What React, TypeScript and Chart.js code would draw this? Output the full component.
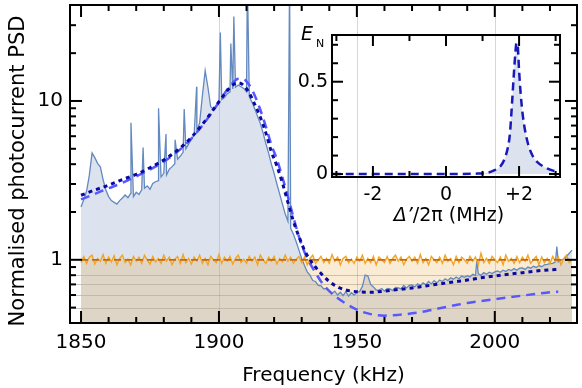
import React, { useEffect, useRef } from "react";
import { Chart, registerables } from "chart.js";

Chart.register(...registerables);

const FONT = "'DejaVu Sans', 'Liberation Sans', sans-serif";

// ---- Main panel data (frequency in kHz, one sample per kHz from FREQ_START) ----
const FREQ_START = 1850;

const PSD = [
  2.15, 2.4, 2.7, 3.4, 4.7, 4.4, 4.05, 3.85, 3.2, 2.75,
  2.5, 2.36, 2.3, 2.24, 2.36, 2.45, 2.56, 2.46, 2.62, 2.5,
  2.66, 2.58, 2.76, 2.82, 2.92, 2.78, 3.02, 3.1, 3.15, 3.32,
  3.5, 3.42, 3.72, 3.86, 4.02, 4.3, 4.5, 4.75, 5.0, 5.35,
  5.75, 6.1, 6.45, 7.3, 10.8, 15.5, 12.2, 9.2, 8.9, 9.4,
  9.7, 10.2, 10.5, 11.1, 11.4, 11.9, 12.2, 12.6, 12.3, 12.0,
  11.4, 10.6, 9.8, 8.9, 8.0, 7.2, 6.3, 5.4, 4.7, 4.0,
  3.5, 3.0, 2.6, 2.25, 1.95, 1.75, 1.58, 1.45, 1.3, 1.15,
  1.02, 0.92, 0.84, 0.8, 0.74, 0.73, 0.69, 0.685, 0.655, 0.66,
  0.64, 0.615, 0.635, 0.6, 0.625, 0.595, 0.63, 0.59, 0.62, 0.6,
  0.625, 0.63, 0.68, 0.8, 0.79, 0.7, 0.675, 0.645, 0.645, 0.66,
  0.635, 0.66, 0.655, 0.64, 0.67, 0.665, 0.655, 0.69, 0.665, 0.69,
  0.695, 0.675, 0.705, 0.69, 0.715, 0.695, 0.73, 0.705, 0.74, 0.715,
  0.745, 0.73, 0.76, 0.74, 0.77, 0.755, 0.78, 0.76, 0.79, 0.775,
  0.795, 0.78, 0.81, 0.795, 0.815, 0.8, 0.83, 0.81, 0.835, 0.82,
  0.84, 0.85, 0.835, 0.86, 0.845, 0.87, 0.855, 0.88, 0.86, 0.885,
  0.89, 0.87, 0.9, 0.885, 0.91, 0.895, 0.92, 0.905, 0.93, 0.935,
  0.945, 0.95, 0.97, 0.97, 0.995, 1.01, 1.05, 1.1, 1.15,
];

const SHOT_NOISE = [
  0.96, 1.05, 0.95, 1.04, 1.07, 0.94, 1.02, 0.98, 1.08, 0.95,
  1.04, 0.97, 1.06, 0.93, 1.02, 1.07, 0.96, 1.01, 0.93, 1.05,
  0.98, 1.04, 0.95, 1.07, 1.0, 0.94, 1.05, 0.97, 1.02, 0.95,
  1.07, 0.98, 1.04, 0.93, 1.01, 1.05, 0.95, 1.08, 0.96, 1.02,
  0.94, 1.04, 0.98, 1.07, 0.95, 1.02, 0.93, 1.05, 1.0, 0.96,
  1.08, 0.95, 1.04, 0.98, 1.05, 0.94, 1.02, 1.07, 0.96, 1.01,
  0.95, 1.05, 0.98, 1.04, 0.93, 1.07, 1.0, 0.95, 1.04, 0.98,
  1.05, 0.94, 1.02, 0.97, 1.07, 0.98, 1.04, 0.95, 1.01, 1.05,
  0.96, 1.04, 0.93, 1.02, 1.07, 0.95, 1.0, 1.05, 0.96, 1.02,
  0.95, 1.08, 0.98, 1.04, 0.93, 1.02, 1.05, 0.96, 1.01, 0.95,
  1.04, 0.98, 1.07, 0.95, 1.02, 0.96, 1.05, 0.93, 1.04, 1.0,
  0.96, 1.05, 0.95, 1.02, 1.07, 0.98, 1.04, 0.93, 1.01, 1.05,
  0.98, 1.04, 0.95, 1.08, 0.96, 1.02, 0.93, 1.05, 1.0, 0.96,
  1.04, 0.95, 1.07, 0.98, 1.02, 0.93, 1.05, 0.96, 1.04, 1.0,
  0.95, 1.05, 0.98, 1.04, 0.93, 1.1, 0.96, 1.02, 0.95, 1.05,
  1.0, 0.96, 1.04, 0.93, 1.07, 0.98, 1.02, 0.95, 1.05, 0.96,
  1.04, 0.98, 1.07, 0.95, 1.0, 1.05, 0.93, 1.04, 0.96, 1.02,
  0.95, 1.05, 0.98, 1.04, 0.93, 1.02, 1.07, 0.96, 1.0,
];

const SHOT_LEVEL_FREQ = [1850, 2028];
const SHOT_LEVEL = [1, 1];

const SPIKE_FREQ = [1868.1, 1872.5, 1878.1, 1880.8, 1884.1, 1887.4, 1891.9, 1900.5, 1904.3, 1905.4, 1910.3, 1925.6, 1993.5, 2022.5];
const SPIKE_PEAK = [7.3, 5.1, 9.0, 6.2, 5.7, 8.9, 12.3, 27, 23, 34, 60, 60, 0.99, 1.21];

const FIT_FREQ = [
  1850, 1855, 1860, 1865, 1870, 1875, 1880, 1885, 1890, 1895,
  1900, 1903, 1905, 1907, 1909, 1911, 1913, 1915, 1917, 1919,
  1921, 1923, 1925, 1927, 1929, 1931, 1933, 1935, 1937, 1940,
  1943, 1946, 1950, 1955, 1960, 1965, 1970, 1975, 1980, 1985,
  1990, 1995, 2000, 2005, 2010, 2015, 2020, 2023,
];
const FIT_FULL = [
  2.55, 2.75, 2.95, 3.2, 3.45, 3.8, 4.25, 4.9, 5.9, 7.5,
  9.9, 11.6, 12.6, 13.0, 12.5, 11.2, 9.5, 7.9, 6.3, 4.8,
  3.9, 3.05, 2.3, 1.75, 1.4, 1.15, 1.0, 0.9, 0.82, 0.73,
  0.675, 0.645, 0.63, 0.625, 0.635, 0.65, 0.665, 0.685, 0.705, 0.725,
  0.745, 0.77, 0.79, 0.81, 0.83, 0.85, 0.865, 0.87,
];
const FIT_NO_NOISE = [
  2.4, 2.6, 2.82, 3.05, 3.35, 3.7, 4.15, 4.8, 5.8, 7.4,
  9.8, 11.8, 13.0, 13.8, 13.7, 12.6, 10.8, 8.8, 6.9, 5.3,
  4.3, 3.3, 2.5, 1.85, 1.4, 1.12, 0.95, 0.83, 0.73, 0.635,
  0.575, 0.53, 0.485, 0.455, 0.445, 0.45, 0.46, 0.475, 0.495, 0.515,
  0.535, 0.55, 0.565, 0.58, 0.595, 0.61, 0.625, 0.63,
];

const X_TICKS = [1850, 1900, 1950, 2000];
const Y_TICKS = [1, 10];
const GRID_X = [1900, 1950, 2000];
const GRID_Y = [0.5, 0.6, 0.7, 0.8];

// ---- Inset data ----
const INSET_DETUNING = [-3.1, -2, -1, 0, 0.8, 1.1, 1.3, 1.5, 1.6, 1.7, 1.75, 1.8, 1.85, 1.9, 1.93, 1.96, 2.0, 2.05, 2.1, 2.16, 2.25, 2.38, 2.5, 2.75, 3.02];
const INSET_EN = [0, 0, 0, 0, 0.002, 0.006, 0.018, 0.045, 0.08, 0.15, 0.22, 0.36, 0.52, 0.66, 0.71, 0.7, 0.56, 0.42, 0.32, 0.24, 0.16, 0.095, 0.065, 0.032, 0.013];
const INSET_X_TICKS = [-2, 0, 2];
const INSET_Y_TICKS = [0, 0.5];

function seg(ctx: CanvasRenderingContext2D, x1: number, y1: number, x2: number, y2: number) {
  ctx.beginPath();
  ctx.moveTo(x1, y1);
  ctx.lineTo(x2, y2);
  ctx.stroke();
}

const noPad = (s: any) => {
  s.paddingTop = 0;
  s.paddingBottom = 0;
  s.paddingLeft = 0;
  s.paddingRight = 0;
};

const mainDecor = {
  id: "mainDecor",
  beforeDatasetsDraw(chart: any) {
    const { ctx, chartArea: a, scales } = chart;
    const x = scales.x, y = scales.y;
    ctx.save();
    ctx.lineWidth = 1;
    ctx.strokeStyle = "rgba(0,0,0,0.16)";
    GRID_X.forEach((v) => {
      const px = Math.round(x.getPixelForValue(v)) + 0.5;
      seg(ctx, px, a.top, px, a.bottom);
    });
    ctx.strokeStyle = "rgba(0,0,0,0.22)";
    GRID_Y.forEach((v) => {
      const py = Math.round(y.getPixelForValue(v)) + 0.5;
      seg(ctx, a.left, py, a.right, py);
    });
    ctx.restore();
  },
  afterDraw(chart: any) {
    const { ctx, chartArea: a, scales } = chart;
    const x = scales.x, y = scales.y;
    ctx.save();
    ctx.strokeStyle = "#000";
    ctx.lineWidth = 2;
    ctx.strokeRect(a.left, a.top, a.right - a.left, a.bottom - a.top);
    for (let f = 1850; f <= 2020; f += 10) {
      const px = x.getPixelForValue(f);
      const len = X_TICKS.includes(f) ? 12 : 6;
      seg(ctx, px, a.bottom, px, a.bottom - len);
      seg(ctx, px, a.top, px, a.top + len);
    }
    const minor = [0.5, 0.6, 0.7, 0.8, 0.9, 2, 3, 4, 5, 6, 7, 8, 9, 20, 30];
    minor.forEach((v) => {
      const py = y.getPixelForValue(v);
      seg(ctx, a.left, py, a.left + 6, py);
      seg(ctx, a.right, py, a.right - 6, py);
    });
    Y_TICKS.forEach((v) => {
      const py = y.getPixelForValue(v);
      seg(ctx, a.left, py, a.left + 12, py);
      seg(ctx, a.right, py, a.right - 12, py);
    });
    // y-axis title
    ctx.fillStyle = "#000";
    ctx.font = `21px ${FONT}`;
    ctx.textAlign = "center";
    ctx.textBaseline = "middle";
    ctx.translate(19, 171);
    ctx.rotate(-Math.PI / 2);
    ctx.fillText("Normalised photocurrent PSD", 0, 0);
    ctx.restore();
  },
};

const insetDecor = {
  id: "insetDecor",
  afterDraw(chart: any) {
    const { ctx, chartArea: a, scales } = chart;
    const x = scales.x, y = scales.y;
    ctx.save();
    ctx.strokeStyle = "#000";
    ctx.lineWidth = 2;
    ctx.strokeRect(a.left, a.top, a.right - a.left, a.bottom - a.top);
    [-3, -2, -1, 0, 1, 2, 3].forEach((v) => {
      const px = x.getPixelForValue(v);
      const len = INSET_X_TICKS.includes(v) ? 11 : 6;
      seg(ctx, px, a.bottom, px, a.bottom - len);
      seg(ctx, px, a.top, px, a.top + len);
    });
    [0, 0.1, 0.2, 0.3, 0.4, 0.5, 0.6, 0.7].forEach((v) => {
      const py = y.getPixelForValue(v);
      const len = INSET_Y_TICKS.includes(v) ? 11 : 6;
      seg(ctx, a.left, py, a.left + len, py);
      seg(ctx, a.right, py, a.right - len, py);
    });
    ctx.fillStyle = "#000";
    ctx.textBaseline = "alphabetic";
    ctx.textAlign = "left";
    ctx.font = `italic 19px ${FONT}`;
    ctx.fillText("E", 301, 40);
    ctx.font = `11px ${FONT}`;
    ctx.fillText("N", 316, 47);
    // x title with italic Δ’
    const partA = "Δ’";
    const partB = "/2π (MHz)";
    ctx.font = `italic 19px ${FONT}`;
    const wA = ctx.measureText(partA).width;
    ctx.font = `19px ${FONT}`;
    const wB = ctx.measureText(partB).width;
    const cx = (a.left + a.right) / 2 + 3;
    const startX = cx - (wA + wB) / 2;
    ctx.font = `italic 19px ${FONT}`;
    ctx.fillText(partA, startX, 221);
    ctx.font = `19px ${FONT}`;
    ctx.fillText(partB, startX + wA, 221);
    ctx.restore();
  },
};

export default function App() {
  const mainRef = useRef<HTMLCanvasElement>(null);
  const insetRef = useRef<HTMLCanvasElement>(null);

  useEffect(() => {
    const spectrum = PSD.map((v, i) => ({ x: FREQ_START + i, y: v }));
    SPIKE_FREQ.forEach((f, i) => spectrum.push({ x: f, y: SPIKE_PEAK[i] }));
    spectrum.sort((p, q) => p.x - q.x);
    const shot = SHOT_NOISE.map((v, i) => ({ x: FREQ_START + i, y: v }));
    const shotLevel = SHOT_LEVEL_FREQ.map((f, i) => ({ x: f, y: SHOT_LEVEL[i] }));
    const fitFull = FIT_FREQ.map((f, i) => ({ x: f, y: FIT_FULL[i] }));
    const fitNoNoise = FIT_FREQ.map((f, i) => ({ x: f, y: FIT_NO_NOISE[i] }));

    const common = { pointRadius: 0, tension: 0, spanGaps: false };

    const main = new Chart(mainRef.current as HTMLCanvasElement, {
      type: "line",
      data: {
        datasets: [
          { ...common, data: spectrum, order: 7, borderWidth: 0, borderColor: "rgba(0,0,0,0)", backgroundColor: "rgba(158,178,209,0.36)", fill: "start" },
          { ...common, data: shot, order: 6, borderWidth: 0, borderColor: "rgba(0,0,0,0)", backgroundColor: "rgba(230,155,40,0.2)", fill: "start" },
          { ...common, data: spectrum, order: 5, borderWidth: 1.3, borderColor: "rgb(100,137,190)", fill: false },
          { ...common, data: shot, order: 4, borderWidth: 1.4, borderColor: "rgb(240,165,40)", fill: false },
          { ...common, data: shotLevel, order: 3, borderWidth: 1.8, borderColor: "rgb(195,105,15)", borderDash: [7, 4], fill: false },
          { ...common, data: fitNoNoise, order: 2, borderWidth: 2.5, borderColor: "rgb(88,88,255)", borderDash: [9, 6], fill: false, cubicInterpolationMode: "monotone" },
          { ...common, data: fitFull, order: 1, borderWidth: 3, borderColor: "rgb(10,10,160)", borderDash: [4, 4], fill: false, cubicInterpolationMode: "monotone" },
        ],
      },
      options: {
        animation: false,
        responsive: false,
        events: [],
        layout: { padding: { top: 5, right: 5, left: 0, bottom: 0 } },
        plugins: { legend: { display: false }, tooltip: { enabled: false } },
        scales: {
          x: {
            type: "linear",
            min: 1846,
            max: 2029.8,
            afterBuildTicks: (s: any) => {
              s.ticks = X_TICKS.map((v) => ({ value: v }));
            },
            afterFit: (s: any) => {
              s.height = 65;
              noPad(s);
            },
            grid: { display: false, drawTicks: false },
            border: { display: false },
            ticks: {
              font: { family: FONT, size: 20 },
              color: "#000",
              padding: 8,
              maxRotation: 0,
              autoSkip: false,
              callback: (v: any) => String(v),
            },
            title: {
              display: true,
              text: "Frequency (kHz)",
              font: { family: FONT, size: 20 },
              color: "#000",
              padding: { top: 0, bottom: 0 },
            },
          },
          y: {
            type: "logarithmic",
            min: 0.4,
            max: 40.2,
            afterBuildTicks: (s: any) => {
              s.ticks = Y_TICKS.map((v) => ({ value: v }));
            },
            afterFit: (s: any) => {
              s.width = 70;
              noPad(s);
            },
            grid: { display: false, drawTicks: false },
            border: { display: false },
            ticks: {
              font: { family: FONT, size: 20 },
              color: "#000",
              padding: 7,
              autoSkip: false,
              callback: (v: any) => String(v),
            },
          },
        },
      },
      plugins: [mainDecor],
    } as any);

    const inset = new Chart(insetRef.current as HTMLCanvasElement, {
      type: "line",
      data: {
        datasets: [
          {
            data: INSET_DETUNING.map((d, i) => ({ x: d, y: INSET_EN[i] })),
            borderColor: "rgb(25,25,185)",
            borderWidth: 2.5,
            borderDash: [8, 5],
            backgroundColor: "rgba(158,178,209,0.36)",
            fill: "origin",
            pointRadius: 0,
            cubicInterpolationMode: "monotone",
          },
        ],
      },
      options: {
        animation: false,
        responsive: false,
        events: [],
        layout: { padding: { top: 35, right: 22, left: 282, bottom: 159 } },
        plugins: { legend: { display: false }, tooltip: { enabled: false } },
        scales: {
          x: {
            type: "linear",
            min: -3.12,
            max: 3.12,
            afterBuildTicks: (s: any) => {
              s.ticks = INSET_X_TICKS.map((v) => ({ value: v }));
            },
            afterFit: (s: any) => {
              s.height = 52;
              noPad(s);
            },
            grid: { display: false, drawTicks: false },
            border: { display: false },
            ticks: {
              font: { family: FONT, size: 19 },
              color: "#000",
              padding: 7,
              maxRotation: 0,
              autoSkip: false,
              callback: (v: any) => (v > 0 ? "+" + v : String(v)),
            },
          },
          y: {
            type: "linear",
            min: -0.016,
            max: 0.753,
            afterBuildTicks: (s: any) => {
              s.ticks = INSET_Y_TICKS.map((v) => ({ value: v }));
            },
            afterFit: (s: any) => {
              s.width = 50;
              noPad(s);
            },
            grid: { display: false, drawTicks: false },
            border: { display: false },
            ticks: {
              font: { family: FONT, size: 19 },
              color: "#000",
              padding: 4,
              autoSkip: false,
              callback: (v: any) => String(v),
            },
          },
        },
      },
      plugins: [insetDecor],
    } as any);

    return () => {
      main.destroy();
      inset.destroy();
    };
  }, []);

  return (
    <div style={{ position: "absolute", left: 0, top: 0, width: 582, height: 388, background: "#fff" }}>
      <canvas ref={mainRef} width={582} height={388} style={{ position: "absolute", left: 0, top: 0 }} />
      <canvas ref={insetRef} width={582} height={388} style={{ position: "absolute", left: 0, top: 0 }} />
    </div>
  );
}
